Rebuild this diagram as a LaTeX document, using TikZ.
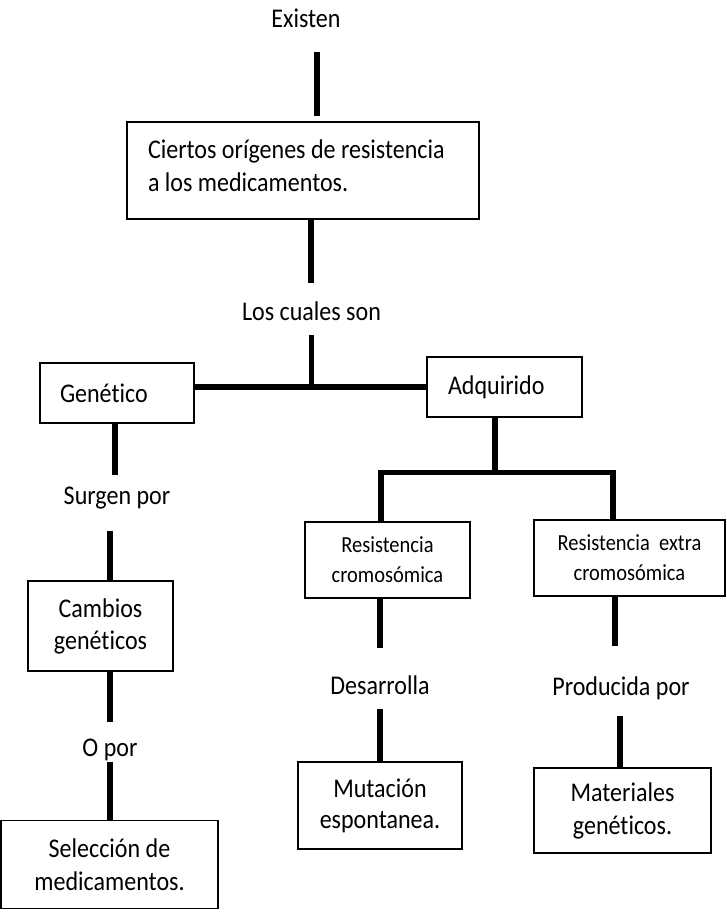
\documentclass[tikz,border=0pt]{standalone}
\usepackage{fontspec}
\setmainfont{Carlito}[FakeStretch=0.89,Ligatures=NoCommon]
\begin{document}
\begin{tikzpicture}[x=1pt,y=-1pt,
  box/.style={draw, line width=1.3pt, inner sep=0pt},
  lbox/.style={box, align=flush left, font=\fontsize{27}{33}\selectfont},
  cbox/.style={box, align=center},
  lbl/.style={inner sep=0pt, anchor=base, font=\fontsize{27}{33}\selectfont},
  conn/.style={line width=5.5pt, line join=miter}]
\useasboundingbox (0,0) rectangle (726,916);
% labels
\node[lbl] (ex)  at (306,27)   {Existen};
\node[lbl] (lcs) at (311.5,320) {Los cuales son};
\node[lbl] (sur) at (117,504)  {Surgen por};
\node[lbl] (opor) at (110,756) {O por};
\node[lbl] (des) at (380,694)  {Desarrolla};
\node[lbl] (pro) at (621,695)  {Producida por};
% boxes
\node[box, inner xsep=21pt, font=\fontsize{27}{33}\selectfont] (b1) at (303,170.5)
  {\parbox[c][97pt][c]{310pt}{\raggedright Ciertos orígenes de resistencia\\a los medicamentos.\par\vspace{10pt}}};
\node[lbox, inner xsep=20pt, text width=114pt, minimum height=60pt] (gen) at (117,393) {Genético};
\node[lbox, inner xsep=21pt, text width=113pt, minimum height=60pt] (adq) at (504.5,387) {Adquirido};
\node[cbox, minimum width=145pt, minimum height=90pt, font=\fontsize{27}{32}\selectfont] (cam) at (100.5,626)
  {Cambios\\genéticos};
\node[cbox, minimum width=217pt, minimum height=88pt, font=\fontsize{27}{33}\selectfont] (sel) at (109.5,864.5)
  {Selección de\\medicamentos.};
\node[cbox, minimum width=165pt, minimum height=76pt, font=\fontsize{23}{30}\selectfont] (rc) at (387.5,560)
  {Resistencia\\cromosómica};
\node[cbox, minimum width=191pt, minimum height=76pt, font=\fontsize{23}{30}\selectfont] (re) at (629.5,558)
  {Resistencia\ \ extra\\cromosómica};
\node[cbox, minimum width=164pt, minimum height=87pt, font=\fontsize{27}{31}\selectfont] (mut) at (380,805.5)
  {Mutación\\espontanea.};
\node[cbox, minimum width=177pt, minimum height=85pt, font=\fontsize{27}{33}\selectfont] (mat) at (622.5,810.5)
  {Materiales\\genéticos.};
% connectors
\draw[conn, shorten <=25pt, shorten >=5pt] ([xshift=14pt]b1.north |- ex.base) -- ([xshift=14pt]b1.north);
\draw[conn, shorten <=-2pt, shorten >=37pt] ([xshift=8pt]b1.south) -- ([xshift=8pt]b1.south |- lcs.base);
\draw[conn, shorten <=15pt] (lcs.base) -- (lcs.base |- adq.west);
\draw[conn] ([yshift=6pt]gen.east) -- (adq.west);
\draw[conn, shorten >=29pt] ([xshift=-2pt]gen.south) -- ([xshift=-2pt]gen.south |- sur.base);
\draw[conn, shorten <=27pt] ([xshift=9.5pt]cam.north |- sur.base) -- ([xshift=9.5pt]cam.north);
\draw[conn, shorten >=34pt] ([xshift=9.5pt]cam.south) -- ([xshift=9.5pt]cam.south |- opor.base);
\draw[conn, shorten <=1pt] ([xshift=0.5pt]sel.north |- opor.south) -- ([xshift=0.5pt]sel.north);
\coordinate (j2) at ([xshift=-9.5pt,yshift=-55pt]adq.south);
\draw[conn] ([xshift=-9.5pt]adq.south) -- (j2);
\draw[conn] ([xshift=-6.5pt]rc.north) |- (j2) -| ([xshift=-16.5pt]re.north);
\draw[conn, shorten >=46pt] ([xshift=-7.5pt]rc.south) -- ([xshift=-7.5pt]rc.south |- des.base);
\draw[conn, shorten <=15pt] (mut.north |- des.base) -- (mut.north);
\draw[conn, shorten >=49pt] ([xshift=-14.5pt]re.south) -- ([xshift=-14.5pt]re.south |- pro.base);
\draw[conn, shorten <=21pt] ([xshift=-2.5pt]mat.north |- pro.base) -- ([xshift=-2.5pt]mat.north);
\end{tikzpicture}
\end{document}
